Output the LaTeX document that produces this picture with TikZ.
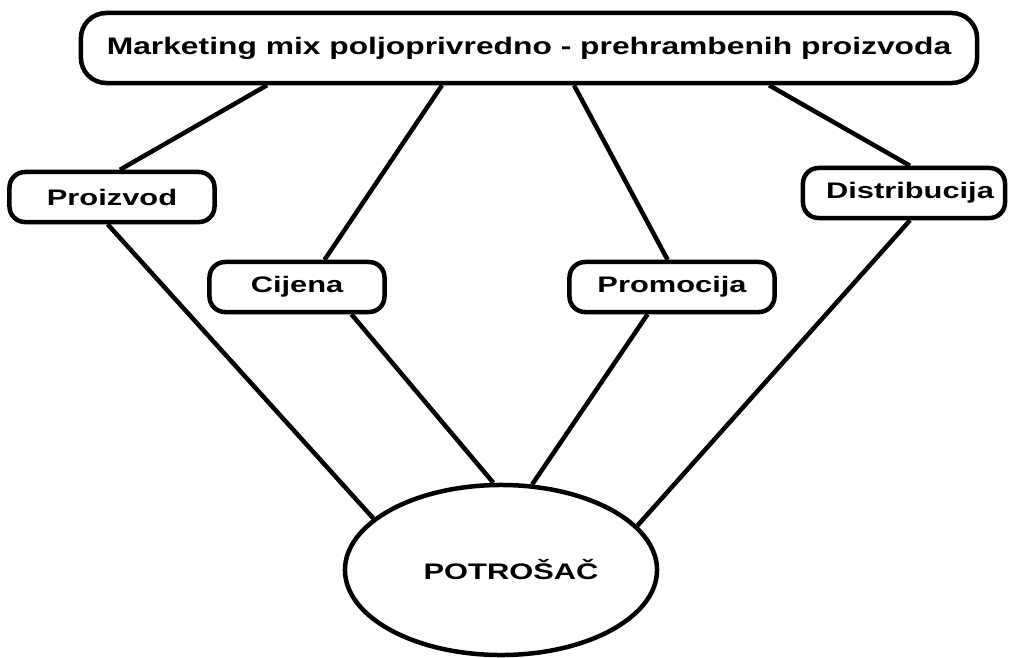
\documentclass[tikz,border=0pt]{standalone}
\usepackage{fontspec}
\setmainfont{Liberation Sans}
\newfontfamily\widefont[FakeStretch=1.37]{Liberation Sans}
\newfontfamily\mixfont[FakeStretch=1.33]{Liberation Sans}
\usetikzlibrary{shapes.geometric}

\tikzset{
    box/.style={draw, line width=3.2pt, rounded corners=11pt, inner sep=0pt,
        minimum height=1.25cm, font=\widefont\bfseries\fontsize{16}{19}\selectfont},
    mixbox/.style={draw, line width=3.2pt, rounded corners=18pt, inner sep=0pt,
        minimum width=22.4cm, minimum height=1.75cm,
        font=\mixfont\bfseries\fontsize{17}{20}\selectfont},
    kupac/.style={draw, ellipse, line width=3.2pt, inner sep=0pt,
        minimum width=7.8cm, minimum height=4.25cm,
        font=\widefont\bfseries\fontsize{16}{19}\selectfont},
    link/.style={line width=3.2pt}
}

\begin{document}
\begin{tikzpicture}[x=0.025cm, y=-0.025cm]

    \useasboundingbox (0,0) rectangle (1011,657);

    \node[mixbox] (mix) at (529,48) {Marketing mix poljoprivredno - prehrambenih proizvoda};

    \node[box, minimum width=5.125cm] (proizvod) at (112,197) {Proizvod};
    \node[box, minimum width=4.375cm] (cijena) at (297,287) {Cijena};
    \node[box, minimum width=5.125cm] (promocija) at (672,287) {Promocija};
    \node[box, minimum width=5.05cm] (distribucija) at (904,193) {\hspace*{0.3cm}Distribucija};

    \node[kupac] (potrosac) at (501,570) {\hspace*{0.5cm}POTROŠAČ};

    \draw[link] ([xshift=-6.55cm]mix.south) -- ([xshift=0.2cm]proizvod.north);
    \draw[link] ([xshift=-2.175cm]mix.south) -- ([xshift=0.69cm]cijena.north);
    \draw[link] ([xshift=1.125cm]mix.south) -- ([xshift=-0.11cm]promocija.north);
    \draw[link] ([xshift=6cm]mix.south) -- ([xshift=0.15cm]distribucija.north);

    \draw[link] ([xshift=-0.11cm]proizvod.south) -- (potrosac.158);
    \draw[link] ([xshift=1.36cm]cijena.south) -- (potrosac.95);
    \draw[link] ([xshift=-0.61cm]promocija.south) -- (potrosac.70);
    \draw[link] ([xshift=0.15cm]distribucija.south) -- (potrosac.18);

\end{tikzpicture}
\end{document}
